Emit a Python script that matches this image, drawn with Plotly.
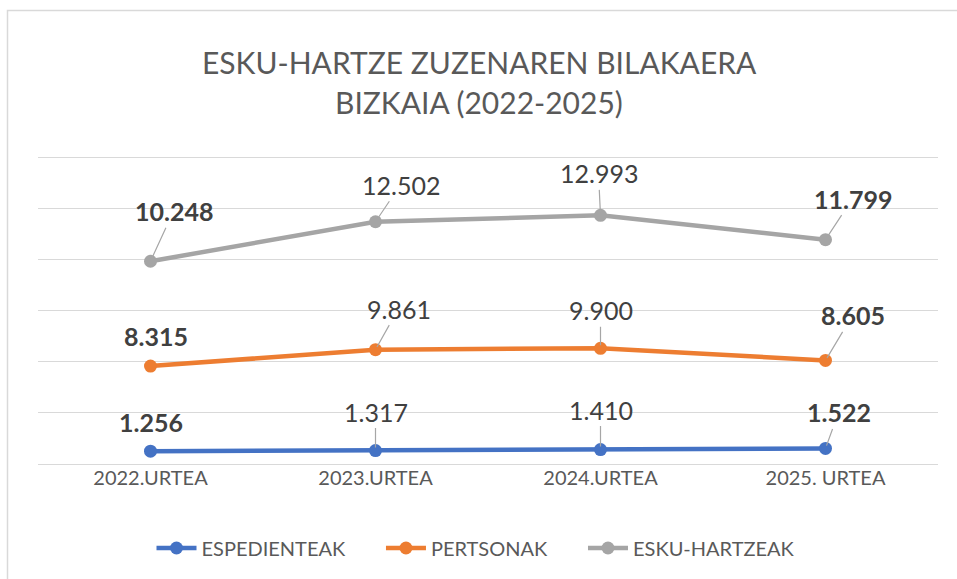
import numpy as np
import plotly.graph_objects as go

categories = ["2022.URTEA", "2023.URTEA", "2024.URTEA", "2025. URTEA"]
series_names = ["ESPEDIENTEAK", "PERTSONAK", "ESKU-HARTZEAK"]
espedienteak = [1256, 1317, 1410, 1522]
pertsonak = [8315, 9861, 9900, 8605]
esku_hartzeak = [10248, 12502, 12993, 11799]

title_line1 = "ESKU-HARTZE ZUZENAREN BILAKAERA"
title_line2 = "BIZKAIA (2022-2025)"

colors = ["#4472C4", "#ED7D31", "#A5A5A5"]
font = "Lato"

values = [espedienteak, pertsonak, esku_hartzeak]
stacked = np.cumsum(np.array(values), axis=0)


def fmt(v):
    return f"{v:,}".replace(",", ".")


fig = go.Figure()
for name, vals, col in zip(series_names, values, colors):
    fig.add_trace(go.Scatter(
        x=categories, y=vals, name=name + "      ", stackgroup="one", fill="none",
        mode="lines+markers",
        line=dict(color=col, width=4.5),
        marker=dict(color=col, size=13),
        text=[fmt(v) for v in vals], hoverinfo="x+text",
    ))

# label offsets (px) from point to label center: (dx, dy, leader line)
offsets = [
    [(0, -29, False), (0, -39, True), (0, -40, True), (13, -36, True)],
    [(5, -30, False), (23, -41, True), (0, -38, True), (27, -45, True)],
    [(23, -50, True), (25, -37, True), (-2, -42, True), (27, -41, True)],
]

annotations = []
for s, vals in enumerate(values):
    for i, v in enumerate(vals):
        dx, dy, arrow = offsets[s][i]
        bold = i == 0 or i == len(vals) - 1
        txt = f"<b>{fmt(v)}</b>" if bold else fmt(v)
        a = dict(x=categories[i], y=stacked[s][i], xref="x", yref="y",
                 text=txt, font=dict(family=font, size=25, color="#404040"))
        if arrow:
            a.update(showarrow=True, arrowhead=0, arrowwidth=1.2,
                     arrowcolor="#A6A6A6", ax=dx, ay=dy, standoff=3)
        else:
            a.update(showarrow=False, xshift=dx, yshift=-dy)
        annotations.append(a)

W, H = 957, 579
ml, mr, mt, mb = 38, 19, 154, 115
pw, ph = W - ml - mr, H - mt - mb


def px_x(p):
    return (p - ml) / pw


def px_y(p):
    return (H - mb - p) / ph


for txt, yy in ((title_line1, 62), (title_line2, 102)):
    annotations.append(dict(text=txt, x=px_x(479), y=px_y(yy), xref="paper", yref="paper",
                            xanchor="center", yanchor="middle", showarrow=False,
                            font=dict(family=font, size=30, color="#595959")))

fig.update_layout(
    width=W, height=H,
    margin=dict(l=ml, r=mr, t=mt, b=mb, autoexpand=False),
    paper_bgcolor="white", plot_bgcolor="white",
    annotations=annotations,
    showlegend=True,
    legend=dict(orientation="h", x=px_x(491), xanchor="center", y=px_y(548), yanchor="middle",
                font=dict(family=font, size=20, color="#595959"),
                itemwidth=40, tracegroupgap=0),
    xaxis=dict(type="category", range=[-0.5, 3.5], showgrid=False, showline=False, ticks="",
               tickfont=dict(family=font, size=20, color="#595959")),
    yaxis=dict(range=[0, 30300], tick0=0, dtick=5000, showticklabels=False,
               gridcolor="#D9D9D9", gridwidth=1, zeroline=True, zerolinecolor="#D9D9D9",
               zerolinewidth=1, showline=False),
    shapes=[dict(type="rect", xref="paper", yref="paper",
                 x0=px_x(7.5), x1=px_x(970), y0=px_y(590), y1=px_y(10.5),
                 line=dict(color="#D9D9D9", width=1.5), fillcolor="rgba(0,0,0,0)")],
)

fig.write_html("out.html", config={"displayModeBar": False},
               post_script="document.body.style.margin='0';document.body.style.overflow='hidden';")
